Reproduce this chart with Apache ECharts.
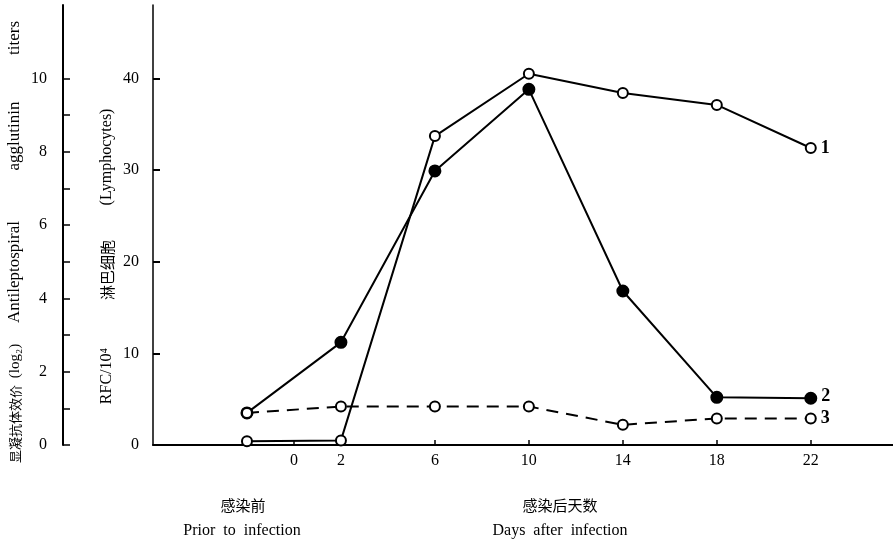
<!DOCTYPE html>
<html>
<head>
<meta charset="utf-8">
<script src="https://cdn.jsdelivr.net/npm/echarts@6/dist/echarts.min.js"></script>
<style>html,body{margin:0;padding:0;background:#fff}#c{width:893px;height:550px}</style>
</head>
<body>
<div id="c"></div>
<script>
// ---- data ----
var days = [-2, 2, 6, 10, 14, 18, 22];
var dayTickLabels = [0, 2, 6, 10, 14, 18, 22];
var rfcTicks = [0, 10, 20, 30, 40];
var titerTicks = [0, 2, 4, 6, 8, 10];
var titerMinorTicks = [0, 1, 2, 3, 4, 5, 6, 7, 8, 9, 10];
var series1 = [0.4, 0.5, 33.7, 40.5, 38.4, 37.1, 32.4];
var series2 = [3.5, 11.2, 29.9, 38.8, 16.8, 5.2, 5.1];
var series3 = [3.5, 4.2, 4.2, 4.2, 2.2, 2.9, 2.9];
var seriesNames = ['1', '2', '3'];

var serif = '"Liberation Serif", "DejaVu Serif", serif';
var cjk = '"Noto Sans CJK SC", sans-serif';

function pts(vals, filled, openFirst) {
  return vals.map(function (v, i) {
    var isFilled = filled && !(openFirst && i === 0);
    return {
      value: [days[i], v],
      itemStyle: { color: isFilled ? '#000' : '#fff', borderColor: '#000', borderWidth: 2 }
    };
  });
}
function endLabel(name, dy) {
  return {
    show: true,
    formatter: function (p) { return p.dataIndex === days.length - 1 ? name : ''; },
    position: 'right',
    distance: 4,
    offset: [0, dy || 0],
    color: '#000',
    fontFamily: serif,
    fontWeight: 'bold',
    fontSize: 18
  };
}
function vtext(str, x, y, font) {
  return { type: 'text', x: x, y: y, rotation: Math.PI / 2,
    style: { text: str, font: font, fill: '#000', align: 'center', verticalAlign: 'middle' } };
}

var chart = echarts.init(document.getElementById('c'));
chart.setOption({
  animation: false,
  backgroundColor: '#fff',
  grid: { left: 153, right: 0, top: 5, bottom: 105, containLabel: false },
  xAxis: {
    type: 'value', min: -6, max: 25.5,
    axisLine: { onZero: false, lineStyle: { color: '#000', width: 2 } },
    splitLine: { show: false },
    axisTick: { inside: true, length: 5, customValues: dayTickLabels, lineStyle: { color: '#000', width: 1.5 } },
    axisLabel: { customValues: dayTickLabels, color: '#000', fontFamily: serif, fontSize: 16, margin: 8 }
  },
  yAxis: [
    {
      type: 'value', min: 0, max: 48, position: 'left',
      axisLine: { show: true, onZero: false, lineStyle: { color: '#000', width: 1.5 } },
      splitLine: { show: false },
      axisTick: { show: true, inside: true, length: 7, customValues: rfcTicks, lineStyle: { color: '#000', width: 2 } },
      axisLabel: { customValues: rfcTicks, color: '#000', fontFamily: serif, fontSize: 16, margin: 14 }
    },
    {
      type: 'value', min: 0, max: 12, position: 'left', offset: 90,
      axisLine: { show: true, onZero: false, lineStyle: { color: '#000', width: 2 } },
      splitLine: { show: false },
      axisTick: { show: true, inside: true, length: 7, customValues: titerMinorTicks, lineStyle: { color: '#000', width: 1.5 } },
      axisLabel: { customValues: titerTicks, color: '#000', fontFamily: serif, fontSize: 16, margin: 16 }
    }
  ],
  graphic: [
    vtext('显凝抗体效价', 15, 424, '13px ' + cjk),
    vtext('(log\u2082)', 15, 361, '15px ' + serif),
    vtext('Antileptospiral', 15, 272, '17px ' + serif),
    vtext('agglutinin', 15, 136, '17px ' + serif),
    vtext('titers', 15, 38, '17px ' + serif),
    vtext('RFC/10\u2074', 107, 376, '16px ' + serif),
    vtext('淋巴细胞', 107, 270, '15px ' + cjk),
    vtext('(Lymphocytes)', 107, 157, '16px ' + serif),
    { type: 'text', x: 243, y: 505,
      style: { text: '感染前', font: '15px ' + cjk, fill: '#000', align: 'center', verticalAlign: 'middle' } },
    { type: 'text', x: 242, y: 531,
      style: { text: 'Prior  to  infection', font: '16px ' + serif, fill: '#000', align: 'center', verticalAlign: 'middle' } },
    { type: 'text', x: 560, y: 505,
      style: { text: '感染后天数', font: '15px ' + cjk, fill: '#000', align: 'center', verticalAlign: 'middle' } },
    { type: 'text', x: 560, y: 531,
      style: { text: 'Days  after  infection', font: '16px ' + serif, fill: '#000', align: 'center', verticalAlign: 'middle' } }
  ],
  series: [
    { name: seriesNames[0], type: 'line', yAxisIndex: 0, data: pts(series1, false, false),
      symbol: 'circle', symbolSize: 10, lineStyle: { color: '#000', width: 2 }, label: endLabel('1', 0), z: 3 },
    { name: seriesNames[1], type: 'line', yAxisIndex: 0, data: pts(series2, true, true),
      symbol: 'circle', symbolSize: 11, lineStyle: { color: '#000', width: 2 }, label: endLabel('2', -2), z: 4 },
    { name: seriesNames[2], type: 'line', yAxisIndex: 0, data: pts(series3, false, false),
      symbol: 'circle', symbolSize: 10, lineStyle: { color: '#000', width: 2, type: [12, 8] }, label: endLabel('3', 0), z: 5 }
  ]
});
</script>
</body>
</html>
